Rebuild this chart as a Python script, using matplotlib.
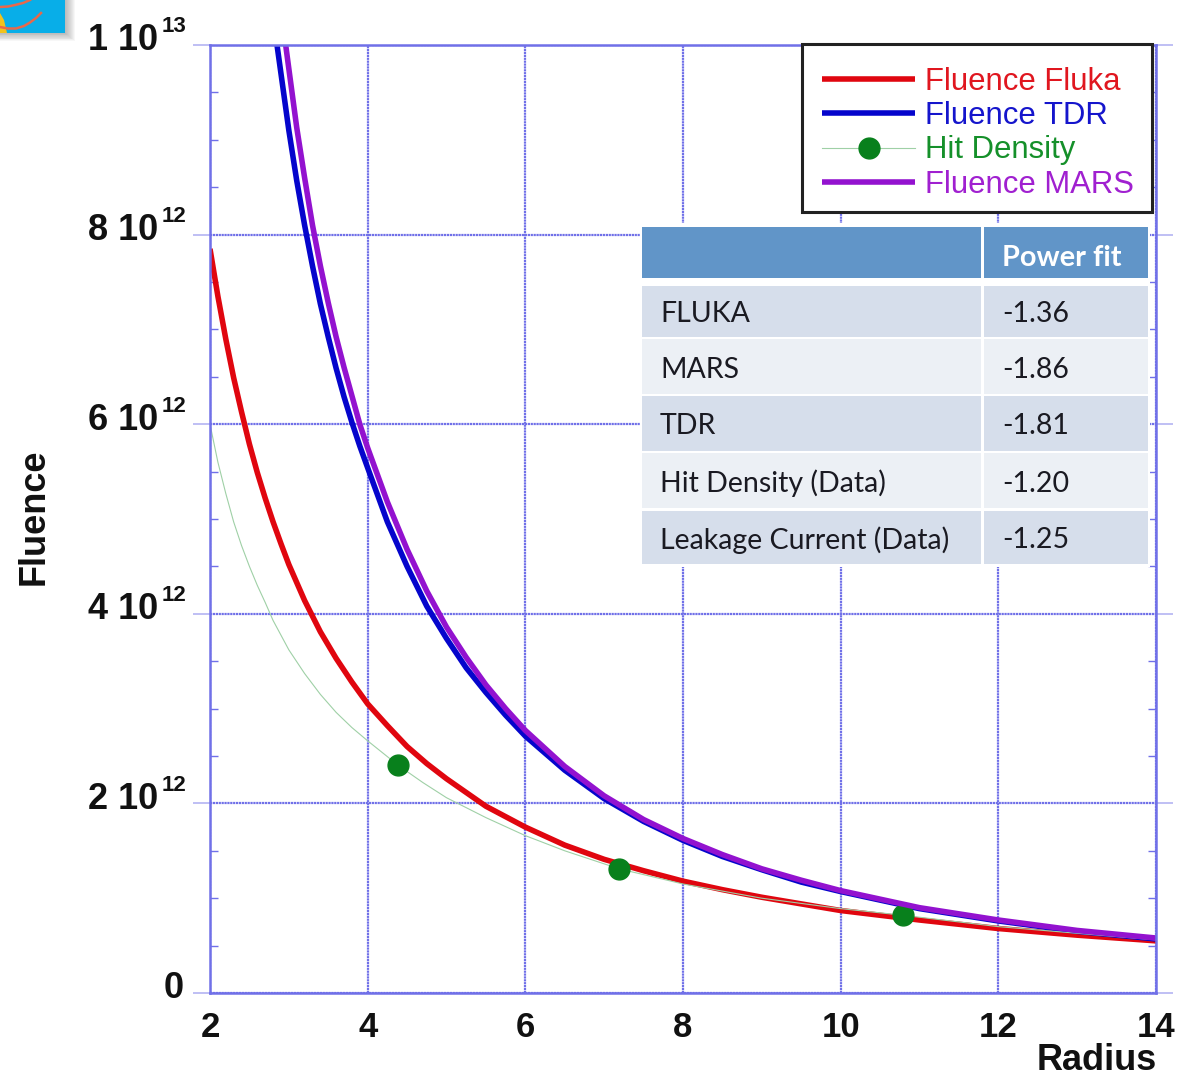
import matplotlib
matplotlib.use('Agg')
import matplotlib.pyplot as plt
from matplotlib.patches import Rectangle
from matplotlib.ticker import MultipleLocator

W, H = 1179, 1078

fluka_x = [2, 2.1, 2.2, 2.3, 2.4, 2.5, 2.6, 2.7, 2.8, 2.9, 3, 3.2, 3.4, 3.6, 3.8, 4, 4.25, 4.5, 4.75,
           5, 5.5, 6, 6.5, 7, 7.5, 8, 8.5, 9, 9.5, 10, 11, 12, 13, 14]
fluka_y = [7.85, 7.35, 6.9, 6.49, 6.13, 5.79, 5.49, 5.22, 4.97, 4.74, 4.52, 4.14, 3.81, 3.53, 3.28, 3.05,
           2.82, 2.6, 2.42, 2.26, 1.97, 1.75, 1.56, 1.41, 1.29, 1.18, 1.09, 1.01, 0.94, 0.87,
           0.77, 0.68, 0.61, 0.55]

tdr_x = [2.85, 2.9, 3, 3.1, 3.2, 3.3, 3.4, 3.5, 3.6, 3.7, 3.8, 3.9, 4, 4.25, 4.5, 4.75, 5, 5.25, 5.5,
         5.75, 6, 6.5, 7, 7.5, 8, 8.5, 9, 9.5, 10, 11, 12, 13, 14]
tdr_y = [10, 9.7, 9.1, 8.57, 8.1, 7.67, 7.27, 6.92, 6.59, 6.29, 6.02, 5.77, 5.54, 4.97, 4.5, 4.08, 3.74,
         3.43, 3.17, 2.93, 2.71, 2.35, 2.05, 1.81, 1.61, 1.44, 1.3, 1.17, 1.07, 0.89, 0.76, 0.65, 0.57]

mars_x = [2.96, 3, 3.1, 3.2, 3.3, 3.4, 3.5, 3.6, 3.7, 3.8, 3.9, 4, 4.25, 4.5, 4.75, 5, 5.25, 5.5,
          5.75, 6, 6.5, 7, 7.5, 8, 8.5, 9, 9.5, 10, 11, 12, 13, 14]
mars_y = [10, 9.75, 9.13, 8.6, 8.1, 7.67, 7.28, 6.92, 6.6, 6.3, 6.0, 5.75, 5.18, 4.68, 4.24, 3.86,
          3.54, 3.25, 3.0, 2.77, 2.39, 2.08, 1.83, 1.63, 1.46, 1.31, 1.19, 1.08, 0.9, 0.77, 0.66, 0.58]

hit_x = [2, 2.1, 2.2, 2.3, 2.4, 2.5, 2.6, 2.7, 2.8, 3, 3.2, 3.4, 3.6, 3.8, 4, 4.39, 4.7, 5, 5.5, 6, 6.5,
         7.19, 8, 9, 10, 10.79, 12, 13, 14]
hit_y = [6.0, 5.6, 5.27, 4.97, 4.72, 4.5, 4.3, 4.12, 3.93, 3.62, 3.37, 3.15, 2.96, 2.8, 2.66, 2.4, 2.22,
         2.06, 1.85, 1.66, 1.5, 1.31, 1.15, 1.0, 0.89, 0.82, 0.7, 0.63, 0.56]
hit_markers = [15, 21, 25]

table_rows = ["FLUKA", "MARS", "TDR", "Hit Density (Data)", "Leakage Current (Data)"]
table_fits = ["-1.36", "-1.86", "-1.81", "-1.20", "-1.25"]

y_ticks = [0, 2, 4, 6, 8, 10]
y_bases = ["0", "2 10", "4 10", "6 10", "8 10", "1 10"]
y_exps = ["", "12", "12", "12", "12", "13"]
x_ticks = [2, 4, 6, 8, 10, 12, 14]

plt.rcParams['font.family'] = ['Liberation Sans', 'DejaVu Sans']

GRID = '#7070e8'
PX = 0.72  # points per pixel at dpi 100

fig = plt.figure(figsize=(W / 100, H / 100), dpi=100, facecolor='white')
ax = fig.add_axes([210 / W, 1 - 993 / H, (1156 - 210) / W, (993 - 45) / H])

ax.plot(fluka_x, fluka_y, color='#e0060f', lw=4, label='Fluence Fluka', solid_capstyle='butt')
ax.plot(tdr_x, tdr_y, color='#0505cc', lw=4, label='Fluence TDR', solid_capstyle='butt')
ax.plot(hit_x, hit_y, color='#9fd0a6', lw=0.8, marker='o', ms=15, mfc='#08801c', mec='#08801c',
        markevery=hit_markers, label='Hit Density')
ax.plot(mars_x, mars_y, color='#9312cf', lw=4, label='Fluence MARS', solid_capstyle='butt')

ax.set_xlim(2, 14)
ax.set_ylim(0, 10)
ax.set_xticks(x_ticks)
ax.set_yticks(y_ticks)
ax.set_yticklabels([])
ax.yaxis.set_minor_locator(MultipleLocator(0.5))
ax.grid(True, which='major', color=GRID, lw=1.6, ls=(0, (1, 0.3)))
ax.set_axisbelow(True)
for s in ax.spines.values():
    s.set_color(GRID)
    s.set_linewidth(1.8)

ax.tick_params(axis='x', length=0, pad=13, labelsize=25)
ax.tick_params(axis='y', which='major', left=True, right=True, direction='out', length=12,
               width=1.2, color='#b4b4f2')
ax.tick_params(axis='y', which='minor', left=True, right=True, direction='in', length=5.5,
               width=1.0, color=GRID)
for t in ax.get_xticklabels():
    t.set_fontweight('bold')
    t.set_color('#111111')

# y labels drawn by hand, the exponents sit higher than mathtext puts them
for yv, base, ex in zip(y_ticks, y_bases, y_exps):
    right = -26 if ex == "" else -52
    ax.annotate(base, xy=(0, yv), xycoords=('axes fraction', 'data'), xytext=(right * PX, 4 * PX),
                textcoords='offset points', ha='right', va='center', fontsize=26,
                fontweight='bold', color='#111111', annotation_clip=False)
    if ex:
        ax.annotate(ex, xy=(0, yv), xycoords=('axes fraction', 'data'), xytext=(-24 * PX, 18 * PX),
                    textcoords='offset points', ha='right', va='center', fontsize=16,
                    fontweight='bold', color='#111111', annotation_clip=False)

# legend frame is its own patch, the text rows do not sit centred in it
ax.add_patch(Rectangle(((802 - 210) / 946, (993 - 212) / 948), 350 / 946, 168 / 948, transform=ax.transAxes,
                       fc='white', ec='#222222', lw=2.2, zorder=4, clip_on=False))
leg = ax.legend(loc='upper left', bbox_to_anchor=((822 - 210) / 946, (993 - 67) / 948), fontsize=22.4,
                frameon=False, handlelength=3.0, handletextpad=0.3, labelspacing=0.135, borderpad=0,
                borderaxespad=0, numpoints=1)
leg.set_zorder(5)
for txt, c in zip(leg.get_texts(), ['#e0161f', '#1515cc', '#15902a', '#a020d0']):
    txt.set_color(c)

fig.text(34 / W, 1 - 517 / H, 'Fluence', rotation=90, ha='center', va='center',
         fontsize=26, fontweight='bold', color='#111111')
fig.text(1157 / W, 1 - 1070 / H, 'Radius', ha='right', va='baseline',
         fontsize=26, fontweight='bold', color='#111111')

# overlay in pixel coordinates for the pasted table and the corner logo
ov = fig.add_axes([0, 0, 1, 1], zorder=5)
ov.set_xlim(0, W)
ov.set_ylim(H, 0)
ov.axis('off')

ov.add_patch(Rectangle((640, 223), 510, 344, fc='white', ec='none'))
col1 = (642, 981)
col2 = (984, 1148)
row_edges = [(227, 278), (286, 337), (339, 394), (396, 451), (453, 508), (511, 564)]
for i, (top, bot) in enumerate(row_edges):
    if i == 0:
        c = '#6195c8'
    elif i % 2 == 1:
        c = '#d6deeb'
    else:
        c = '#ecf0f5'
    ov.add_patch(Rectangle((col1[0], top), col1[1] - col1[0], bot - top, fc=c, ec='none'))
    ov.add_patch(Rectangle((col2[0], top), col2[1] - col2[0], bot - top, fc=c, ec='none'))

ov.text(1002, 258, 'Power fit', fontsize=20.8, fontweight='bold', color='white',
        family=['Lato', 'DejaVu Sans'], va='center')
for (top, bot), name, fit in zip(row_edges[1:], table_rows, table_fits):
    ym = (top + bot) / 2 + 3
    ov.text(660, ym, name, fontsize=20.5, color='#1a1a22', family=['Lato', 'DejaVu Sans'], va='center')
    ov.text(1002, ym, fit, fontsize=20.5, color='#1a1a22', family=['Lato', 'DejaVu Sans'], va='center')

# logo corner, top left
for i in range(10):
    ov.add_patch(Rectangle((0, 0), 75 - i, 41 - i * 0.8, fc='#777777', ec='none', alpha=0.06))
ov.add_patch(Rectangle((0, 0), 65, 33, fc='#08aee8', ec='none'))
ov.fill([0, 4, 7, 0], [13, 20, 33, 33], color='#f2c21c', lw=0)
logo_x1 = [0, 8, 16, 24, 30, 36, 41]
logo_y1 = [27, 28.5, 28.5, 26, 22.5, 18, 13]
logo_x2 = [0, 8, 15, 23, 30]
logo_y2 = [7, 6.5, 5, 3, 0]
ov.plot(logo_x1, logo_y1, color='#e8684a', lw=1.8)
ov.plot(logo_x2, logo_y2, color='#e8684a', lw=1.8)
ov.set_xlim(0, W)
ov.set_ylim(H, 0)

fig.savefig('out.png', dpi=100, facecolor='white')
plt.close()
